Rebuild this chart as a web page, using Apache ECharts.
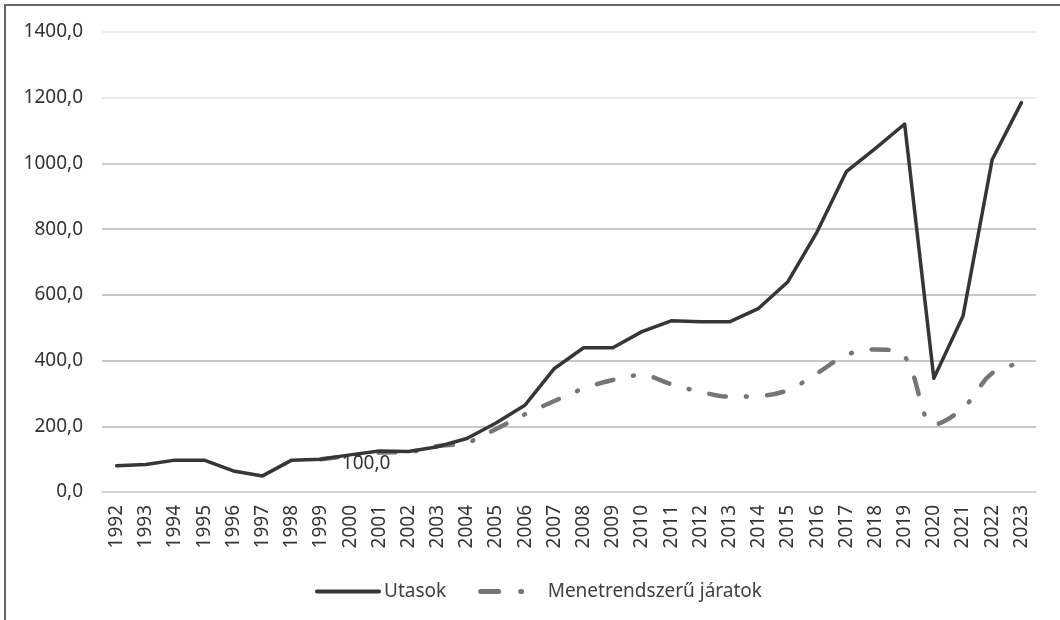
<!DOCTYPE html>
<html>
<head>
<meta charset="utf-8">
<script src="https://cdn.jsdelivr.net/npm/echarts@6/dist/echarts.min.js"></script>
<style>
html,body{margin:0;padding:0;background:#fff;}
#chart{width:1060px;height:620px;}
</style>
</head>
<body>
<div id="chart"></div>
<script>
const years = ['1992','1993','1994','1995','1996','1997','1998','1999','2000','2001','2002','2003','2004','2005','2006','2007','2008','2009','2010','2011','2012','2013','2014','2015','2016','2017','2018','2019','2020','2021','2022','2023'];
const utasok = [80,84,97,97,64,49,97,100,113,125,123,138,163,210,265,376,439,439,488,521,518,518,559,640,792,975,1046,1120,346,536,1012,1185];
const jaratok = [null,null,null,null,null,null,null,100,110,120,122,140,150,192,237,277,315,341,356,328,305,290,292,310,361,417,434,412,205,255,362,392];
const yTicks = [0,200,400,600,800,1000,1200,1400];
const seriesNames = ['Utasok','Menetrendszerű járatok'];
const labelText = '100,0';
const labelIndex = 8;

const fmt = v => v.toFixed(1).replace('.', ',');
const font = 'Noto Sans';

const chart = echarts.init(document.getElementById('chart'), null, {renderer:'canvas'});

chart.setOption({
  backgroundColor:'#fff',
  animation:false,
  graphic:[{type:'rect', shape:{x:5,y:5,width:1070,height:640}, style:{fill:'none', stroke:'#666', lineWidth:2}, silent:true}],
  grid:{left:102, right:24, top:32, bottom:128, containLabel:false},
  legend:{
    left:310, top:577, itemWidth:62, itemHeight:14, itemGap:32,
    textStyle:{fontFamily:font, fontSize:19, color:'#404040'},
    itemStyle:{opacity:0},
    lineStyle:{width:4},
    data: [
      {name:seriesNames[0], lineStyle:{width:4, color:'#363636'}},
      {name:seriesNames[1], lineStyle:{width:5, color:'#767676', type:[18,22,1,40]}}
    ]
  },
  xAxis:{
    type:'category', data: years, boundaryGap:true,
    axisLine:{show:true, lineStyle:{color:'#d0d0d0', width:1.5}},
    axisTick:{show:false},
    axisLabel:{rotate:90, margin:13, fontFamily:font, fontSize:19, color:'#333', interval:0}
  },
  yAxis:{
    type:'value', min:yTicks[0], max:yTicks[yTicks.length-1], interval:200,
    axisLine:{show:false}, axisTick:{show:false},
    axisLabel:{formatter: fmt, margin:19, fontFamily:font, fontSize:19, color:'#333'},
    splitLine:{show:true, lineStyle:{color:['#d0d0d0','#b4b4b4','#b4b4b4','#b4b4b4','#b4b4b4','#bcbcbc','#e2e2e2','#e8e8e8'], width:1.5}}
  },
  series:[
    {name:seriesNames[0], type:'line', data: utasok, symbol:'none', smooth:false,
     lineStyle:{color:'#363636', width:3.5, cap:'round', join:'round'}, itemStyle:{color:'#363636'}, z:3},
    {name:seriesNames[1], type:'line', data: jaratok, symbol:'none', smooth:0.35, connectNulls:false,
     lineStyle:{color:'#767676', width:4.5, type:[17,20,1,20], cap:'round', join:'round'}, itemStyle:{color:'#767676'}, z:2,
     markPoint:{
       symbol:'circle', symbolSize:0, silent:true,
       data:[{coord:[years[labelIndex], jaratok[labelIndex]], value: jaratok[labelIndex],
              label:{show:true, formatter: labelText, position:'bottom', offset:[16,-7],
                     fontFamily: font, fontSize: 19, color:'#333'}}]
     }}
  ]
});
</script>
</body>
</html>
